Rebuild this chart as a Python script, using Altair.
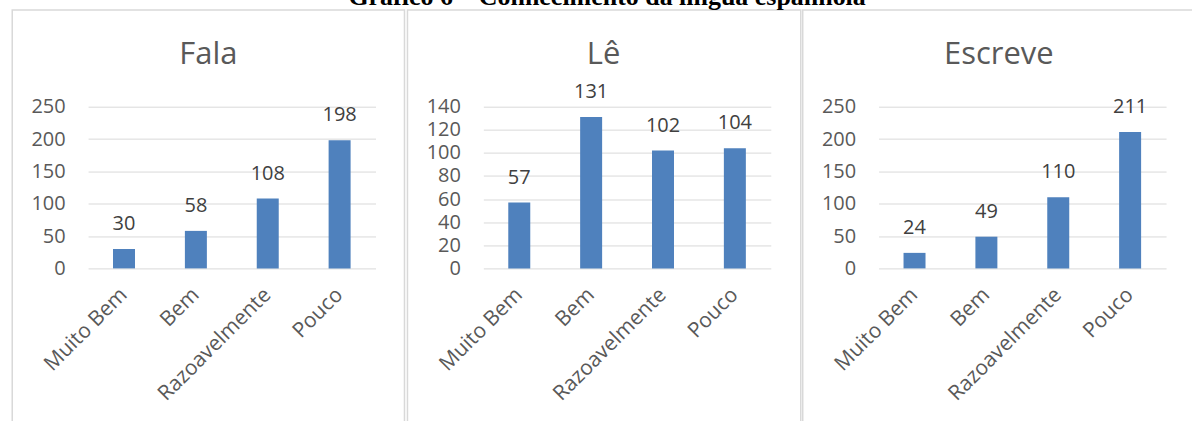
import altair as alt
import pandas as pd

categories = ["Muito Bem", "Bem", "Razoavelmente", "Pouco"]
fala = [30, 58, 108, 198]
le = [57, 131, 102, 104]
escreve = [24, 49, 110, 211]
panel_titles = ["Fala", "Lê", "Escreve"]
y_max = [250, 140, 250]
y_step = [50, 20, 50]
main_title = "Gráfico 6 – Conhecimento da língua espanhola"

FONT = "Open Sans"
BAR = "#4F81BD"
GRID = "#D9D9D9"
LABEL = "#595959"
VALUE = "#404040"


def panel(values, title, ymax, ystep, frame, with_main=False):
    df = pd.DataFrame({"cat": categories, "val": values})
    x = alt.X(
        "cat:N", sort=categories, title=None,
        scale=alt.Scale(paddingInner=0.694, paddingOuter=0.347),
        axis=alt.Axis(labelAngle=-45, labelAlign="right", labelBaseline="middle",
                      labelPadding=23, labelFontSize=21, labelColor=LABEL, labelFont=FONT,
                      ticks=False, domain=False, grid=False, labelLimit=400),
    )
    y = alt.Y(
        "val:Q", title=None,
        scale=alt.Scale(domain=[0, ymax], nice=False, zero=True),
        axis=alt.Axis(values=list(range(0, ymax + 1, ystep)), ticks=False, domain=False,
                      grid=True, gridColor=GRID, gridWidth=1, labelFontSize=20,
                      labelColor=LABEL, labelFont=FONT, labelPadding=23),
    )
    base = alt.Chart(df).encode(x=x, y=y)
    bars = base.mark_bar(color=BAR)
    labels = base.mark_text(font=FONT, fontSize=20, color=VALUE, baseline="alphabetic",
                            dy=-19).encode(text="val:Q")
    one = pd.DataFrame({"k": [0]})
    border = alt.Chart(one).mark_rect(fillOpacity=0, stroke=GRID, strokeWidth=1.5).encode(
        x=alt.value(frame[0]), x2=alt.value(frame[1]), y=alt.value(-97), y2=alt.value(330)
    )
    ttl = alt.Chart(one).mark_text(font=FONT, fontSize=31, color=LABEL, align="center",
                                   baseline="alphabetic").encode(
        x=alt.value(120.5), y=alt.value(-43), text=alt.value(title)
    )
    layers = [border, bars, labels, ttl]
    if with_main:
        mt = alt.Chart(one).mark_text(font="Liberation Serif", fontSize=26, fontWeight="bold",
                                      color="#000000", align="center",
                                      baseline="alphabetic").encode(
            x=alt.value(124), y=alt.value(-101.5), text=alt.value(main_title)
        )
        layers.append(mt)
    return alt.layer(*layers).properties(width=288, height=162)


p1 = panel(fala, panel_titles[0], y_max[0], y_step[0], (-76, 317))
p2 = panel(le, panel_titles[1], y_max[1], y_step[1], (-76, 318), with_main=True)
p3 = panel(escreve, panel_titles[2], y_max[2], y_step[2], (-76, 321))

chart = alt.hconcat(p1, p2, p3, spacing=108, bounds="flush").properties(
    padding={"left": 10.25, "top": -16.5, "right": -9, "bottom": -16},
    background="white",
).configure_view(stroke="transparent")

chart.save("out.html", embed_options={"renderer": "svg", "actions": False})
